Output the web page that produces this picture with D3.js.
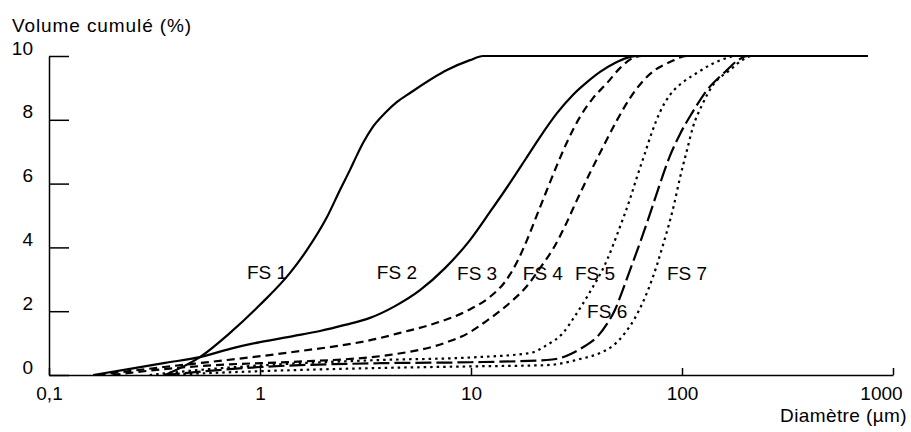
<!DOCTYPE html>
<html>
<head>
<meta charset="utf-8">
<script src="https://cdn.jsdelivr.net/npm/d3@7"></script>
<style>
  body { margin: 0; background: #fff; }
  svg { display: block; }
</style>
</head>
<body>
<div id="chart"></div>
<script>
// diameter (µm), cumulative volume
const fs1 = [[0.355,0],[0.519,0.56],[0.721,1.32],[1.0,2.2],[1.388,3.2],[1.67,3.92],[2.077,4.95],[2.394,5.8],[2.67,6.43],[2.851,6.83],[3.077,7.27],[3.395,7.74],[3.913,8.21],[4.461,8.56],[5.14,8.84],[7.695,9.56],[9.89,9.87],[11.4,10],[760,10]];
const fs2 = [[0.162,0],[0.242,0.19],[0.355,0.38],[0.519,0.56],[0.721,0.82],[1.0,1.03],[1.434,1.22],[1.925,1.38],[2.528,1.57],[3.321,1.79],[4.364,2.16],[5.733,2.66],[7.53,3.35],[9.89,4.23],[12.3,5.11],[15.3,6.02],[18.03,6.74],[21.23,7.46],[25.56,8.21],[30.4,8.78],[35.47,9.18],[40.9,9.5],[48.1,9.78],[54.9,9.94],[61.2,10],[760,10]];
const fs3 = [[0.17,0],[0.35,0.25],[0.7,0.47],[1.43,0.72],[3.71,1.16],[4.608,1.32],[6.605,1.6],[9.57,2.01],[12.3,2.45],[14.49,2.92],[16.52,3.54],[18.42,4.23],[20.55,5.02],[22.9,5.8],[25.56,6.58],[28.83,7.37],[32.86,8.09],[37.87,8.68],[44.1,9.15],[50.8,9.62],[58.6,9.94],[64.6,10],[760,10]];
const fs4 = [[0.2,0],[0.4,0.22],[0.7,0.33],[1.43,0.41],[4.13,0.63],[7.7,1.03],[9.57,1.29],[11.65,1.66],[13.72,2.01],[15.82,2.35],[18.42,2.79],[21.23,3.35],[24.47,3.95],[27.9,4.67],[31.8,5.49],[36.6,6.33],[42.7,7.21],[49.2,7.99],[56.7,8.68],[64.6,9.18],[74.5,9.56],[87.7,9.81],[105.6,10],[760,10]];
const fs5 = [[0.3,0],[0.5,0.15],[1,0.3],[3.704,0.47],[10,0.55],[19.04,0.69],[22.9,0.94],[27.3,1.32],[31.1,1.85],[36.6,2.6],[44.1,3.6],[50.8,4.64],[56.7,5.52],[61.2,6.21],[66.8,6.96],[72.1,7.62],[78.6,8.24],[87.7,8.78],[101.1,9.18],[117.8,9.47],[138.8,9.75],[163.5,9.94],[178.3,10],[760,10]];
const fs6 = [[0.35,0],[1,0.25],[3.71,0.37],[10,0.4],[22.9,0.47],[26.4,0.53],[30.4,0.69],[34.7,0.91],[39.56,1.19],[44.1,1.6],[48.1,2.04],[51.94,2.6],[56.7,3.29],[63.2,4.14],[70.5,5.05],[78.6,5.99],[87.7,6.87],[97.8,7.55],[111.5,8.21],[131.4,8.93],[159.9,9.5],[184.3,9.87],[205.5,10],[760,10]];
const fs7 = [[0.35,0],[1,0.12],[3.71,0.22],[10,0.27],[22.9,0.31],[32.86,0.5],[40.9,0.69],[48.1,0.97],[53.7,1.32],[59.9,1.79],[65.35,2.29],[70.5,2.82],[76.1,3.45],[81.3,4.08],[85.8,4.61],[91.6,5.33],[97.8,6.18],[105.6,7.05],[112.7,7.77],[124.4,8.46],[140.3,9.09],[168.9,9.56],[192.5,9.87],[214.7,10],[760,10]];

const seriesNames = ["FS 1", "FS 2", "FS 3", "FS 4", "FS 5", "FS 6", "FS 7"];
const seriesData = [fs1, fs2, fs3, fs4, fs5, fs6, fs7];
const seriesDash = [null, null, "8,5", "8,5", "2.5,4", "16,5", "2.5,4"];
// where each name sits, in data units (diameter, volume)
const labelAt = [[0.867,3.0],[3.58,3.0],[8.59,2.98],[17.6,2.98],[31.1,2.98],[35.5,1.79],[84.9,2.98]];

const xTicks = [0.1, 1, 10, 100, 1000];
const yTicks = [0, 2, 4, 6, 8, 10];

const width = 911;
const height = 432;
const font = "'Liberation Sans', Arial, Helvetica, sans-serif";

const x = d3.scaleLog().domain([0.1, 1000]).range([49, 893]);
const y = d3.scaleLinear().domain([0, 10]).range([375, 56]);

const svg = d3.create("svg").attr("width", width).attr("height", height);

// y axis, ticks pointing inward
const gy = svg.append("g")
  .attr("transform", `translate(${x(0.1)},0)`)
  .call(d3.axisLeft(y).tickValues(yTicks).tickSize(-20).tickSizeOuter(0).tickPadding(16));
gy.attr("font-family", font).attr("font-size", 19);
gy.selectAll("path, line").attr("stroke", "#000").attr("stroke-width", 1.5);
gy.selectAll("text").attr("fill", "#000").attr("dy", "-0.1em");

// x axis
const gx = svg.append("g")
  .attr("transform", `translate(0,${y(0)})`)
  .call(d3.axisBottom(x).tickValues(xTicks).tickSize(-7).tickSizeOuter(0).tickPadding(12)
    .tickFormat((d) => String(d).replace(".", ",")));
gx.attr("font-family", font).attr("font-size", 19);
gx.selectAll("path, line").attr("stroke", "#000").attr("stroke-width", 1.5);
gx.selectAll("text").attr("fill", "#000");
gx.selectAll(".tick").filter((d) => d === 1000).select("text").attr("dx", -12);

svg.append("text")
  .attr("x", 12).attr("y", 32)
  .attr("font-family", font).attr("font-size", 19)
  .attr("letter-spacing", 0.9)
  .text("Volume cumulé (%)");

svg.append("text")
  .attr("x", 907).attr("y", 422)
  .attr("text-anchor", "end")
  .attr("font-family", font).attr("font-size", 19)
  .attr("letter-spacing", 0.4)
  .text("Diamètre (µm)");

const line = d3.line()
  .x((p) => x(p[0]))
  .y((p) => y(p[1]))
  .curve(d3.curveMonotoneX);

seriesData.forEach((data, i) => {
  svg.append("path")
    .attr("fill", "none")
    .attr("stroke", "#000")
    .attr("stroke-width", 2.2)
    .attr("stroke-dasharray", seriesDash[i])
    .attr("d", line(data));
});

seriesNames.forEach((name, i) => {
  svg.append("text")
    .attr("x", x(labelAt[i][0]))
    .attr("y", y(labelAt[i][1]))
    .attr("font-family", font).attr("font-size", 19)
    .text(name);
});

document.getElementById("chart").append(svg.node());
</script>
</body>
</html>
